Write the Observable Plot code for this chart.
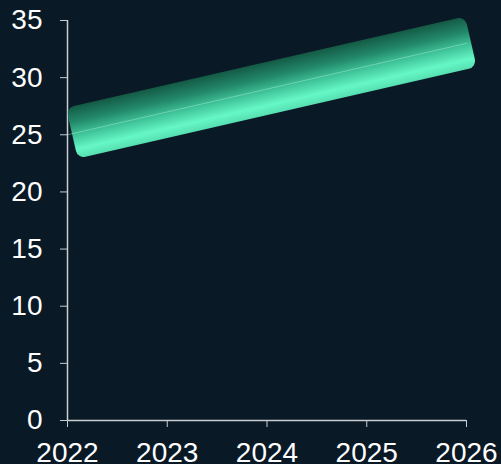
<!DOCTYPE html>
<html>
<head>
<meta charset="utf-8">
<script src="https://cdn.jsdelivr.net/npm/d3@7"></script>
<script src="https://cdn.jsdelivr.net/npm/@observablehq/plot@0.6"></script>
<style>
  html, body { margin: 0; padding: 0; background: #0a1926; }
  #chart { width: 501px; height: 464px; overflow: hidden; }
</style>
</head>
<body>
<div id="chart"></div>
<script>
const years = [2022, 2023, 2024, 2025, 2026];
const values = [25, 27, 29, 31, 33];
const yTicks = [0, 5, 10, 15, 20, 25, 30, 35];

const data = years.map((year, i) => ({year, value: values[i]}));

const axisColor = "#c8cdd0";
const fontSize = 28;

const chart = Plot.plot({
  width: 501,
  height: 464,
  marginLeft: 67,
  marginRight: 35,
  marginTop: 20,
  marginBottom: 44,
  style: {background: "#0a1926", color: "white", fontSize: fontSize + "px", fontFamily: "'Liberation Sans', Arial, sans-serif"},
  x: {domain: [2022, 2026], ticks: years, tickFormat: "d", label: null},
  y: {domain: [0, 35], ticks: yTicks, label: null},
  marks: [
    Plot.axisX({ticks: years, tickFormat: "d", tickSize: 7, tickPadding: 15, stroke: axisColor, fill: "white", label: null, fontSize: fontSize}),
    Plot.axisY({ticks: yTicks, tickSize: 7, tickPadding: 18, stroke: axisColor, fill: "white", label: null, fontSize: fontSize}),
    Plot.ruleX([2022], {stroke: axisColor, strokeWidth: 1.5}),
    Plot.ruleY([0], {stroke: axisColor, strokeWidth: 1.5}),
    Plot.line(data, {x: "year", y: "value", stroke: "rgba(170,240,215,0.45)", strokeWidth: 1, className: "center-line"})
  ]
});

document.getElementById("chart").appendChild(chart);

// Draw the thick band along the series, positioned with Plot's own scales
const sx = chart.scale("x"), sy = chart.scale("y");
const svg = d3.select(chart.tagName.toLowerCase() === "svg" ? chart : chart.querySelector("svg"));
const x0 = sx.apply(years[0]), y0 = sy.apply(values[0]);
const x1 = sx.apply(years[years.length - 1]), y1 = sy.apply(values[values.length - 1]);
const len = Math.hypot(x1 - x0, y1 - y0);
const ang = Math.atan2(y1 - y0, x1 - x0) * 180 / Math.PI;
const W = 52, shift = 5;

const defs = svg.insert("defs", ":first-child");
const grad = defs.append("linearGradient").attr("id", "bandGrad")
  .attr("x1", 0).attr("y1", 0).attr("x2", 0).attr("y2", 1);
[[0, "#145a45"], [0.3, "#23896a"], [0.55, "#3fc398"], [0.82, "#66f7c6"], [1, "#56dfb1"]]
  .forEach(([o, c]) => grad.append("stop").attr("offset", o).attr("stop-color", c));

const lineG = svg.select(".center-line").node() || svg.node().lastChild;
const band = document.createElementNS("http://www.w3.org/2000/svg", "rect");
svg.node().insertBefore(band, lineG);
d3.select(band)
  .attr("x", x0 + shift).attr("y", y0 - W / 2)
  .attr("width", len).attr("height", W)
  .attr("rx", 8).attr("ry", 8)
  .attr("transform", `rotate(${ang},${x0},${y0})`)
  .attr("fill", "url(#bandGrad)");
</script>
</body>
</html>
